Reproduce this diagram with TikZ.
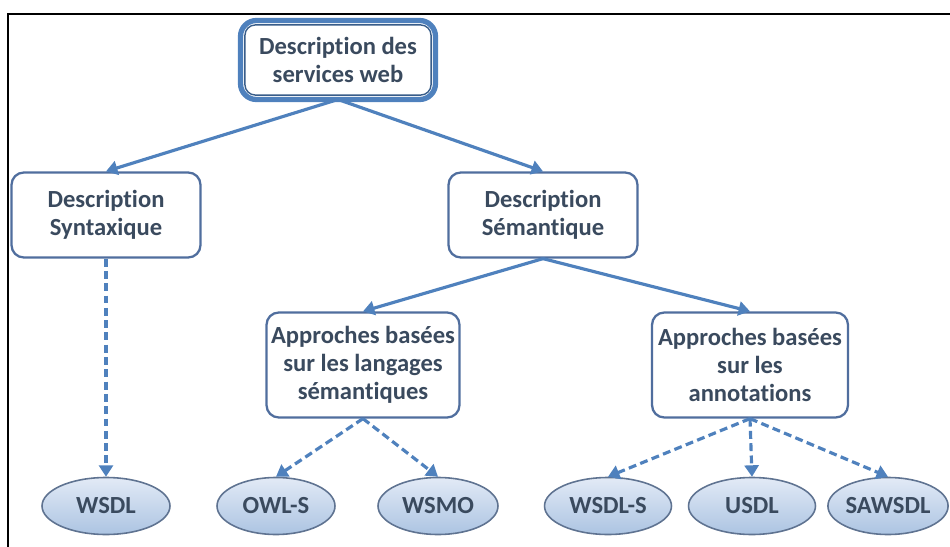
\documentclass[tikz,border=0pt]{standalone}
\usepackage{fontspec}
\setmainfont{Carlito}[Ligatures=NoCommon]
\usetikzlibrary{positioning, arrows.meta, shapes.geometric}

\definecolor{lineblue}{RGB}{79,129,189}
\definecolor{boxline}{RGB}{80,110,158}
\definecolor{rootdark}{RGB}{56,93,138}
\definecolor{txtgrey}{RGB}{58,74,94}
\definecolor{leafline}{RGB}{95,115,145}
\definecolor{leaftop}{RGB}{226,234,246}
\definecolor{leafbot}{RGB}{172,196,226}

\begin{document}
\begin{tikzpicture}[x=0.02cm, y=-0.02cm,
  box/.style={draw=boxline, line width=1.3pt, rounded corners=7pt, fill=white,
    align=center, text=txtgrey, inner sep=1pt,
    font=\bfseries\fontsize{14}{16}\selectfont},
  leaf/.style={ellipse, draw=leafline, line width=0.9pt, top color=leaftop,
    bottom color=leafbot, minimum width=2.5cm, minimum height=1.14cm,
    inner sep=0pt, text=txtgrey, font=\bfseries\fontsize{14}{16}\selectfont},
  arr/.style={draw=lineblue, line width=1.8pt, -{Triangle[length=6.5pt,width=8pt]}},
  darr/.style={arr, dash pattern=on 4.5pt off 2.5pt}]
\useasboundingbox (0,0) rectangle (950,547);

% frame
\draw[line width=1.1pt] (950,14) -- (8,14) -- (8,547);

% boxes
\node[box, draw=lineblue, line width=3pt, outer sep=0pt, rounded corners=9pt,
  minimum width=3.9cm, minimum height=1.58cm] (root) at (338,60)
  {Description des\\services web};
\draw[rootdark, line width=0.8pt, rounded corners=6pt]
  ([shift={(2.5pt,-2.5pt)}]root.north west) rectangle ([shift={(-2.5pt,2.5pt)}]root.south east);

\node[box, minimum width=3.78cm, minimum height=1.7cm] (syntax) at (106,215)
  {Description\\Syntaxique};
\node[box, minimum width=3.78cm, minimum height=1.7cm] (seman) at (543,215)
  {Description\\Sémantique};
\node[box, minimum width=3.86cm, minimum height=2.1cm] (langages) at (363,365)
  {Approches basées\\sur les langages\\sémantiques};
\node[box, minimum width=3.92cm, minimum height=2.1cm] (annot) at (750,365)
  {Approches basées\\sur les\\annotations};

% leaves
\node[leaf, minimum width=2.56cm] (wsdl) at (106,506) {WSDL};
\node[leaf, minimum width=2.36cm] (owls) at (276,506) {OWL-S};
\node[leaf, minimum width=2.4cm] (wsmo) at (438,506) {WSMO};
\node[leaf, minimum width=2.54cm] (wsdls) at (608,506) {WSDL-S};
\node[leaf, minimum width=2.54cm] (usdl) at (752,506) {USDL};
\node[leaf, minimum width=2.4cm] (sawsdl) at (888,506) {SAWSDL};

% arrows
\draw[arr] (root.south) -- (syntax.north);
\draw[arr] (root.south) -- (seman.north);
\draw[arr] (seman.south) -- (langages.north);
\draw[arr] (seman.south) -- (annot.north);

\draw[darr] (syntax.south) -- (wsdl.north);
\draw[darr] (langages.south) -- (owls.north);
\draw[darr] (langages.south) -- (wsmo.north);
\draw[darr] (annot.south) -- (wsdls.north);
\draw[darr] (annot.south) -- (usdl.north);
\draw[darr] (annot.south) -- (sawsdl.north);
\end{tikzpicture}
\end{document}
